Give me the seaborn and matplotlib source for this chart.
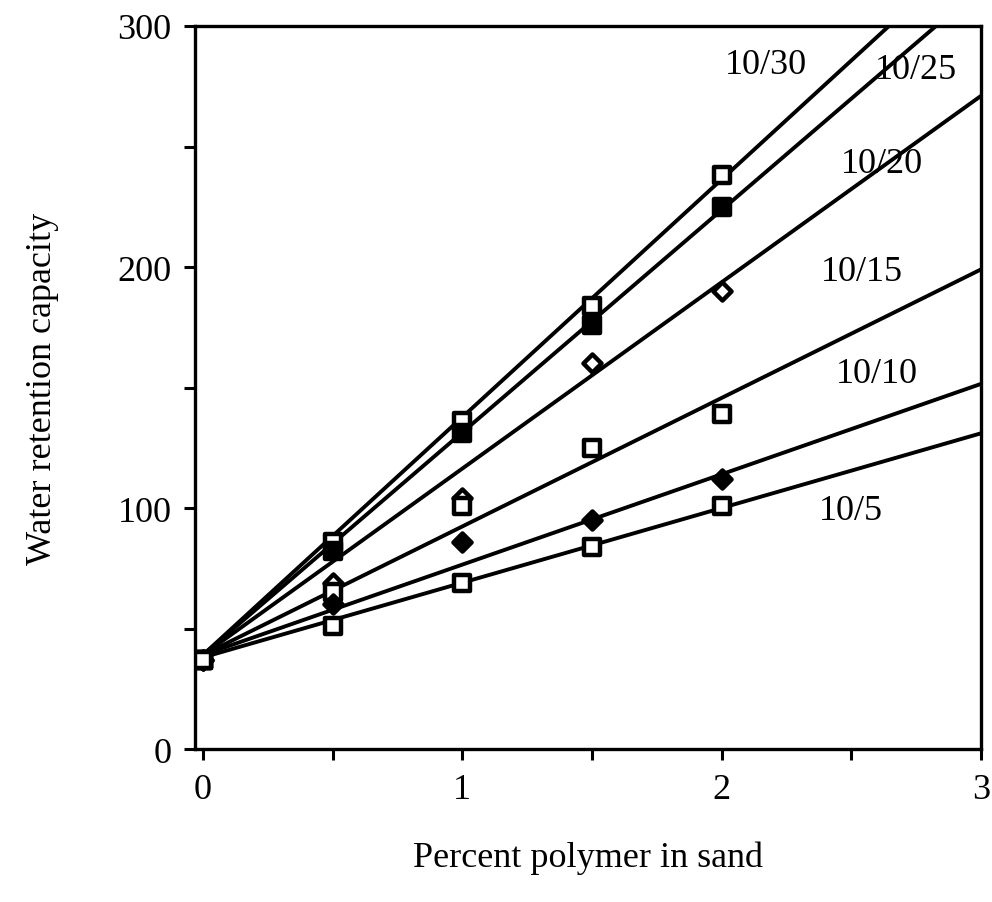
import numpy as np
import pandas as pd
import seaborn as sns
import matplotlib.pyplot as plt

# data
polymer = [0, 0.5, 1, 1.5, 2]
series = ['10/30', '10/25', '10/20', '10/15', '10/10', '10/5']
wrc_10_30 = [37, 86, 136, 184, 238]
wrc_10_25 = [37, 82, 131, 176, 225]
wrc_10_20 = [37, 69, 104, 160, 190]
wrc_10_15 = [37, 65, 101, 125, 139]
wrc_10_10 = [37, 60, 86, 95, 112]
wrc_10_5 = [37, 51, 69, 84, 101]
# fitted lines, value at x=0 and at x=3
fit_x = [0, 3]
fit_y0 = [39, 39, 39, 39, 39, 38]
fit_y3 = [335, 316, 271, 199, 151.5, 131]

values = [wrc_10_30, wrc_10_25, wrc_10_20, wrc_10_15, wrc_10_10, wrc_10_5]

sns.set_style('ticks')
plt.rcParams['font.family'] = ['Liberation Serif', 'DejaVu Serif']
plt.rcParams['text.color'] = 'black'
plt.rcParams['axes.labelcolor'] = 'black'
plt.rcParams['xtick.color'] = 'black'
plt.rcParams['ytick.color'] = 'black'
plt.rcParams['axes.edgecolor'] = 'black'

fig = plt.figure(figsize=(9.92, 9.03), dpi=100)
ax = fig.add_axes([0.1966, 0.1694, 0.7923, 0.8007])

# marker styles: (marker, face colour)
styles = {
    '10/30': ('s', 'white'),
    '10/25': ('s', 'black'),
    '10/20': ('D', 'white'),
    '10/15': ('s', 'white'),
    '10/10': ('D', 'black'),
    '10/5': ('s', 'white'),
}

for i, name in enumerate(series):
    sns.lineplot(x=fit_x, y=[fit_y0[i], fit_y3[i]], color='black', lw=2.8, ax=ax, zorder=2)

for i, name in enumerate(series):
    df = pd.DataFrame({'x': polymer, 'y': values[i]})
    m, fc = styles[name]
    sns.scatterplot(data=df, x='x', y='y', marker=m, color=fc, edgecolor='black',
                    linewidth=3.2, s=120 if m == 's' else 85, ax=ax, zorder=3)

# line labels
label_pos = [(2.17, 284), (2.75, 282), (2.62, 243), (2.54, 198), (2.6, 156), (2.5, 99)]
for name, (lx, ly) in zip(series, label_pos):
    ax.text(lx, ly, name, fontsize=26, ha='center', va='center')

ax.set_xlim(-0.03, 3.0)
ax.set_ylim(0, 300)
ax.set_xticks([0, 0.5, 1, 1.5, 2, 2.5, 3])
ax.set_xticklabels(['0', '', '1', '', '2', '', '3'])
ax.set_yticks([0, 50, 100, 150, 200, 250, 300])
ax.set_yticklabels(['0', '', '100', '', '200', '', '300'])
ax.tick_params(axis='both', direction='out', length=8, width=2.2, labelsize=26, pad=9)

for sp in ax.spines.values():
    sp.set_linewidth(2.4)
    sp.set_visible(True)

ax.set_xlabel('Percent polymer in sand', fontsize=26, labelpad=25)
ax.set_ylabel('Water retention capacity', fontsize=26, labelpad=42)

fig.savefig('out.png', dpi=100)
